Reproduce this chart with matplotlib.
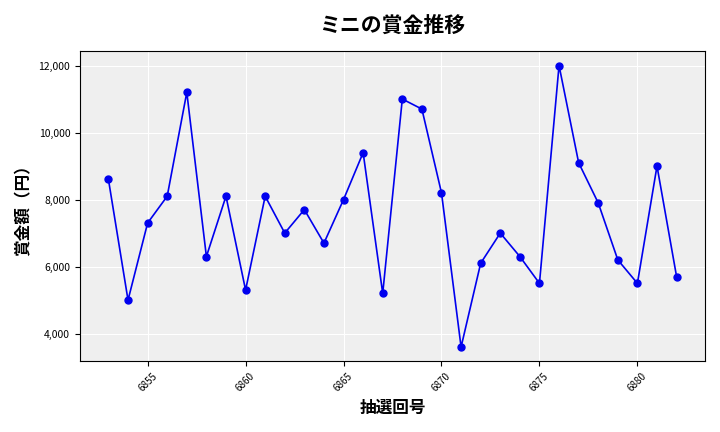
import matplotlib
matplotlib.use("Agg")
import matplotlib.pyplot as plt
from matplotlib.ticker import FuncFormatter

plt.rcParams['font.family'] = ['Noto Sans CJK JP', 'DejaVu Sans']

draws = list(range(6853, 6883))
prizes = [8600, 5000, 7300, 8100, 11200, 6300, 8100, 5300, 8100, 7000,
          7700, 6700, 8000, 9400, 5200, 11000, 10700, 8200, 3600, 6100,
          7000, 6300, 5500, 12000, 9100, 7900, 6200, 5500, 9000, 5700]

fig, ax = plt.subplots(figsize=(7.2, 4.32), dpi=100)
ax.set_facecolor('#efefef')
ax.grid(True, color='white', linewidth=0.8)
ax.set_axisbelow(True)
ax.plot(draws, prizes, color='#0000ee', marker='o', markersize=5, linewidth=1.2)
ax.set_title('ミニの賞金推移', fontsize=15, fontweight='bold', pad=14)
ax.set_xlabel('抽選回号', fontsize=12, fontweight='bold')
ax.set_ylabel('賞金額（円）', fontsize=12, fontweight='bold')
ax.yaxis.set_major_formatter(FuncFormatter(lambda v, p: f'{int(v):,}'))
ax.set_xticks([6855, 6860, 6865, 6870, 6875, 6880])
ax.tick_params(axis='x', labelrotation=45, labelsize=7)
ax.tick_params(axis='y', labelsize=7.5)
ax.set_yticks([4000, 6000, 8000, 10000, 12000])
fig.tight_layout()
fig.savefig('out.png')
